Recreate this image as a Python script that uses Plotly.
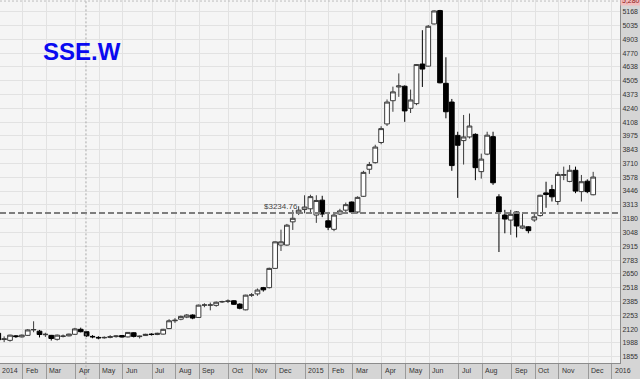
import plotly.graph_objects as go
import pandas as pd

# Weekly OHLC, SSE Composite, weeks starting 2014-01-06
opens = [2080, 2020, 2012, 2055, 2045, 2060, 2112, 2100, 2066, 2060, 2022, 2050, 2055, 2070, 2118, 2095,
         2050, 2040, 2036, 2040, 2048, 2058, 2045, 2085, 2048, 2058, 2072, 2068, 2072, 2125, 2200, 2215,
         2235, 2255, 2232, 2350, 2350, 2348, 2380, 2385, 2392, 2360, 2305, 2446, 2458, 2518, 2518, 2703,
         2927, 2927, 3150, 3232,
         3268, 3275, 3215, 3358, 3160, 3078, 3225, 3262, 3340, 3245, 3395, 3655, 3718, 3912, 4090, 4313,
         4445, 4452, 4240, 4285, 4665, 4645, 5050, 5178, 4480, 4300, 3980, 3930, 3965, 3990, 3632, 3800,
         3968, 3390, 3215, 3167, 3245, 3090, 3102, 3168, 3210, 3428, 3460, 3345, 3596, 3538, 3645, 3440,
         3540, 3410]
highs = [2088, 2050, 2066, 2062, 2068, 2120, 2195, 2112, 2085, 2064, 2068, 2068, 2076, 2132, 2134, 2100,
         2062, 2052, 2050, 2062, 2060, 2062, 2092, 2090, 2058, 2075, 2080, 2085, 2122, 2215, 2225, 2250,
         2265, 2262, 2355, 2368, 2375, 2385, 2392, 2405, 2398, 2368, 2450, 2465, 2510, 2525, 2710, 2962,
         3075, 3130, 3264, 3300,
         3405, 3410, 3405, 3400, 3245, 3245, 3275, 3335, 3345, 3395, 3640, 3725, 3890, 4068, 4325, 4448,
         4575, 4460, 4420, 4665, 4990, 5040, 5180, 5185, 4730, 4330, 4015, 4176, 4190, 4000, 3805, 4015,
         4015, 3415, 3265, 3265, 3250, 3225, 3108, 3232, 3410, 3535, 3505, 3630, 3680, 3695, 3680, 3600,
         3558, 3630]
lows = [2010, 1995, 2000, 2035, 2040, 2055, 2090, 2040, 2045, 2010, 2010, 2040, 2050, 2064, 2088, 2045,
        2032, 2022, 2028, 2032, 2038, 2040, 2040, 2040, 2030, 2055, 2058, 2062, 2068, 2120, 2180, 2205,
        2225, 2215, 2228, 2330, 2300, 2335, 2372, 2370, 2352, 2310, 2300, 2430, 2440, 2480, 2510, 2700,
        2870, 2920, 3072, 3215,
        3232, 3232, 3140, 3195, 3070, 3060, 3215, 3245, 3230, 3230, 3390, 3610, 3710, 3895, 4070, 4207,
        4350, 4110, 4195, 4270, 4445, 4640, 5045, 4480, 4144, 3640, 3380, 3700, 3950, 3550, 3565, 3790,
        3505, 2860, 3040, 3025, 3000, 3080, 3040, 3150, 3200, 3285, 3345, 3312, 3550, 3530, 3425, 3345,
        3425, 3405]
closes = [2018, 2026, 2062, 2048, 2062, 2112, 2116, 2068, 2070, 2030, 2062, 2053, 2072, 2122, 2095, 2055,
          2046, 2036, 2040, 2048, 2054, 2044, 2088, 2050, 2052, 2070, 2068, 2080, 2118, 2200, 2205, 2242,
          2255, 2226, 2350, 2352, 2352, 2378, 2385, 2390, 2358, 2320, 2446, 2448, 2495, 2497, 2703, 2958,
          2958, 3118, 3184, 3262,
          3292, 3392, 3355, 3225, 3098, 3215, 3255, 3315, 3245, 3385, 3625, 3700, 3868, 4045, 4300, 4398,
          4455, 4215, 4320, 4660, 4617, 5028, 5175, 4485, 4207, 3690, 3885, 3965, 4070, 3670, 3752, 3982,
          3525, 3245, 3177, 3222, 3110, 3110, 3065, 3198, 3405, 3412, 3390, 3605, 3604, 3645, 3445, 3535,
          3440, 3580]
weeks = pd.date_range("2014-01-06", periods=len(closes), freq="7D")

ytick_vals = [1855, 1988, 2120, 2253, 2385, 2518, 2650, 2783, 2915, 3048, 3180, 3313, 3446,
              3578, 3710, 3843, 3975, 4108, 4240, 4373, 4505, 4638, 4770, 4903, 5035, 5168]
month_labels = ["2014", "Feb", "Mar", "Apr", "May", "Jun", "Jul", "Aug", "Sep", "Oct", "Nov", "Dec",
                "2015", "Feb", "Mar", "Apr", "May", "Jun", "Jul", "Aug", "Sep", "Oct", "Nov", "Dec",
                "2016"]
ref_level = 3234.76
ref_label = "$3234.76"
title = "SSE.W"
top_price_label = "5,280"

# first weekly bar of each month (grid positions)
month_pos = []
prev = None
for w in weeks:
    key = (w.year, w.month)
    if key != prev:
        month_pos.append(w)
        prev = key
month_pos.append(pd.Timestamp("2016-01-04"))
grid_pos = [p + pd.Timedelta(days=1) for p in month_pos]

fig = go.Figure()
fig.add_trace(go.Candlestick(
    x=weeks, open=opens, high=highs, low=lows, close=closes,
    increasing=dict(line=dict(color="#3a3a3a", width=1), fillcolor="#ffffff"),
    decreasing=dict(line=dict(color="#000000", width=1), fillcolor="#000000"),
    whiskerwidth=0, hoverinfo="skip", showlegend=False,
))

x_range = [pd.Timestamp("2014-01-08 01:41"), pd.Timestamp("2016-01-14 20:50")]
y_range = [1794.5, 5280]

fig.update_layout(
    width=640, height=379,
    margin=dict(l=0, r=20, t=0, b=16),
    paper_bgcolor="#d5d5d5",
    plot_bgcolor="#f5f5f5",
    boxgap=0.2, boxgroupgap=0,
    showlegend=False,
    font=dict(family="Liberation Sans, Arial, sans-serif", size=7, color="#333333"),
    xaxis=dict(
        type="date", range=x_range, rangeslider=dict(visible=False),
        tickvals=grid_pos, showticklabels=False,
        ticks="outside", ticklen=16, tickcolor="#9a9a9a", tickwidth=1,
        showgrid=True, gridcolor="#e2e2e2", gridwidth=1,
        showline=True, linecolor="#8c8c8c", linewidth=1,
        zeroline=False, fixedrange=True,
    ),
    yaxis=dict(
        side="right", range=y_range, tickvals=ytick_vals,
        ticktext=[str(v) for v in ytick_vals],
        tickfont=dict(size=7, color="#333333"),
        showgrid=True, gridcolor="#e2e2e2", gridwidth=1,
        showline=True, linecolor="#8c8c8c", linewidth=1,
        ticks="", zeroline=False, fixedrange=True,
    ),
)

# month labels in the bottom strip (first one sits at the left edge)
for i, (p, lab) in enumerate(zip(grid_pos, month_labels)):
    if p < x_range[0]:
        fig.add_annotation(x=0, y=0, xref="paper", yref="paper", text=lab, showarrow=False,
                           xanchor="left", yanchor="top", xshift=0, yshift=-2,
                           font=dict(size=7, color="#333333"))
    else:
        fig.add_annotation(x=p, y=0, xref="x", yref="paper", text=lab, showarrow=False,
                           xanchor="left", yanchor="top", xshift=1, yshift=-2,
                           font=dict(size=7, color="#333333"))

# reference horizontal dashed line with label
fig.add_shape(type="line", xref="paper", x0=0, x1=1, yref="y", y0=ref_level, y1=ref_level,
              line=dict(color="#7d7d7d", width=2, dash="6px,3px"))
fig.add_annotation(x=pd.Timestamp("2014-11-15"), y=ref_level, xref="x", yref="y", text=ref_label,
                   showarrow=False, xanchor="left", yanchor="bottom", yshift=0,
                   font=dict(size=8, color="#444444"))

# vertical dotted cursor line
fig.add_shape(type="line", xref="x", x0=pd.Timestamp("2014-04-20 06:00"), x1=pd.Timestamp("2014-04-20 06:00"),
              yref="paper", y0=-0.045, y1=1, line=dict(color="#a8a8a8", width=1, dash="2px,2px"))
# top dotted line
fig.add_shape(type="line", xref="paper", x0=0, x1=1, yref="y", y0=5270, y1=5270,
              line=dict(color="#bdbdbd", width=1, dash="2px,2px"))

# top-right price box (partly cut by the top edge, as in the reference)
fig.add_annotation(x=1, y=5280, xref="paper", yref="y", text=top_price_label, showarrow=False,
                   xanchor="left", yanchor="middle", bgcolor="#f2bcbc", borderpad=1,
                   font=dict(size=7, color="#8a1a1a"))

# title
fig.add_annotation(x=0.066, y=0.857, xref="paper", yref="paper", text="<b>" + title + "</b>",
                   showarrow=False, xanchor="left", yanchor="middle",
                   font=dict(size=24, color="#0a0af0", family="Liberation Sans, Arial, sans-serif"))

fig.write_html("out.html")
